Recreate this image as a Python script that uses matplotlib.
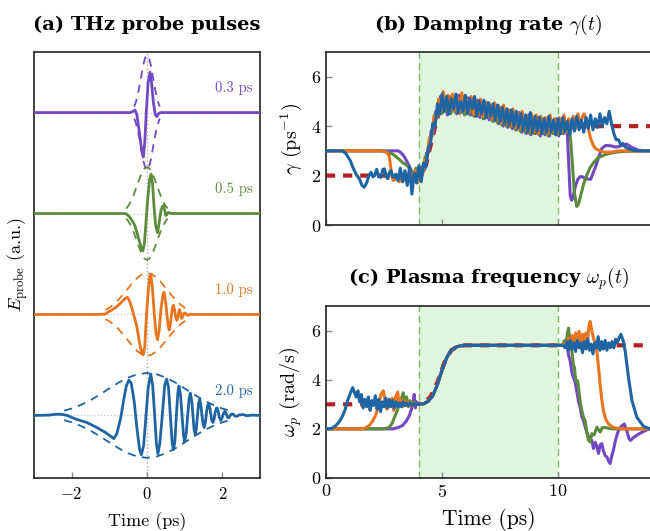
import numpy as np
import matplotlib
matplotlib.use('Agg')
import matplotlib.pyplot as plt

plt.rcParams['font.family'] = 'cmr10'
plt.rcParams['mathtext.fontset'] = 'cm'
plt.rcParams['axes.formatter.use_mathtext'] = True

# ---------------- colours ----------------
C_PURPLE = '#7147c4'
C_GREEN = '#5b8b3c'
C_ORANGE = '#e8741d'
C_BLUE = '#1f64a3'
C_RED = '#b3201f'

# ---------------- panel (a): probe pulses ----------------
pulse_labels = ['0.3 ps', '0.5 ps', '1.0 ps', '2.0 ps']
pulse_offsets = [0.0, -1.0, -2.0, -3.0]

pulse_purple = [(-3.0, 0.0), (-0.45, 0.0), (-0.38, 0.01), (-0.32, 0.025), (-0.27, -0.02),
                (-0.2, -0.2), (-0.14, -0.38), (-0.10, -0.44), (-0.06, -0.3), (-0.02, 0.0),
                (0.03, 0.3), (0.08, 0.40), (0.12, 0.3), (0.17, 0.1), (0.22, -0.02),
                (0.26, -0.04), (0.31, -0.01), (0.36, 0.0), (3.0, 0.0)]
pulse_green = [(-3.0, 0.0), (-0.6, 0.0), (-0.54, -0.005), (-0.45, -0.04), (-0.38, -0.08),
               (-0.32, -0.12), (-0.23, -0.24), (-0.16, -0.33), (-0.11, -0.37), (-0.07, -0.3),
               (-0.03, -0.1), (0.02, 0.15), (0.07, 0.34), (0.11, 0.39), (0.15, 0.28),
               (0.19, 0.05), (0.23, -0.12), (0.28, -0.19), (0.32, -0.1), (0.37, 0.03),
               (0.41, 0.07), (0.44, 0.08), (0.47, 0.03), (0.50, -0.02), (0.53, -0.01),
               (0.56, 0.01), (0.62, 0.003), (0.7, 0.0), (3.0, 0.0)]
pulse_orange = [(-3.0, 0.0), (-1.3, 0.0), (-1.2, 0.003), (-1.13, 0.0), (-1.05, 0.02),
                (-0.95, 0.04), (-0.81, 0.075), (-0.68, 0.12), (-0.58, 0.16), (-0.52, 0.17),
                (-0.47, 0.14), (-0.41, 0.075), (-0.34, -0.02), (-0.27, -0.12), (-0.2, -0.28),
                (-0.14, -0.38), (-0.10, -0.40), (-0.06, -0.32), (-0.02, -0.05), (0.03, 0.22),
                (0.07, 0.37), (0.10, 0.39), (0.14, 0.28), (0.19, 0.02), (0.24, -0.19),
                (0.28, -0.25), (0.32, -0.17), (0.37, 0.05), (0.42, 0.19), (0.45, 0.22),
                (0.49, 0.14), (0.53, 0.0), (0.56, -0.11), (0.59, -0.155), (0.62, -0.1),
                (0.65, 0.0), (0.68, 0.07), (0.70, 0.09), (0.73, 0.05), (0.76, -0.02),
                (0.79, -0.06), (0.82, -0.03), (0.84, 0.02), (0.86, 0.05), (0.89, 0.02),
                (0.92, -0.04), (0.95, -0.02), (0.98, 0.01), (1.01, 0.015), (1.05, 0.0),
                (1.09, -0.01), (1.14, 0.003), (1.2, 0.0), (3.0, 0.0)]
pulse_blue = [(-3.0, 0.0), (-2.6, 0.003), (-2.4, 0.012), (-2.25, 0.01), (-2.12, 0.0),
              (-2.0, -0.02), (-1.86, -0.04), (-1.6, -0.07), (-1.33, -0.12), (-1.1, -0.17),
              (-0.95, -0.21), (-0.88, -0.23), (-0.80, -0.18), (-0.70, -0.03), (-0.62, 0.15),
              (-0.55, 0.29), (-0.48, 0.35), (-0.42, 0.32), (-0.34, 0.14), (-0.27, -0.12),
              (-0.20, -0.33), (-0.15, -0.39), (-0.09, -0.30), (-0.03, -0.02), (0.03, 0.27),
              (0.10, 0.41), (0.15, 0.30), (0.20, 0.02), (0.25, -0.28), (0.29, -0.38),
              (0.34, -0.28), (0.41, 0.02), (0.47, 0.30), (0.52, 0.36), (0.57, 0.28),
              (0.62, 0.00), (0.67, -0.28), (0.70, -0.34), (0.74, -0.26), (0.78, 0.0),
              (0.82, 0.23), (0.85, 0.29), (0.89, 0.2), (0.93, 0.0), (0.97, -0.2),
              (1.00, -0.26), (1.04, -0.18), (1.08, 0.0), (1.12, 0.17), (1.15, 0.22),
              (1.19, 0.14), (1.22, 0.0), (1.25, -0.14), (1.28, -0.19), (1.31, -0.13),
              (1.34, 0.0), (1.37, 0.12), (1.40, 0.16), (1.43, 0.1), (1.46, 0.0),
              (1.49, -0.09), (1.52, -0.12), (1.55, -0.07), (1.58, 0.03), (1.61, 0.1),
              (1.64, 0.115), (1.67, 0.07), (1.70, 0.0), (1.72, -0.05), (1.75, -0.07),
              (1.78, -0.04), (1.81, 0.03), (1.84, 0.07), (1.86, 0.075), (1.89, 0.04),
              (1.92, -0.02), (1.96, -0.05), (1.99, -0.03), (2.03, 0.02), (2.07, 0.04),
              (2.11, 0.01), (2.14, -0.02), (2.17, -0.025), (2.21, 0.0), (2.25, 0.015),
              (2.29, 0.012), (2.33, -0.005), (2.38, -0.01), (2.45, 0.005), (2.55, 0.008),
              (2.65, -0.003), (2.8, 0.003), (3.0, 0.0)]

# envelopes (half, t >= 0; drawn symmetric)
env_purple = [(0.0, 0.57), (0.05, 0.543), (0.1, 0.471), (0.15, 0.366), (0.2, 0.261),
              (0.25, 0.168), (0.3, 0.098), (0.34, 0.059)]
env_green = [(0.0, 0.46), (0.0625, 0.447), (0.125, 0.411), (0.1875, 0.356), (0.25, 0.292),
             (0.3125, 0.226), (0.375, 0.164), (0.4375, 0.114), (0.5, 0.073), (0.55, 0.05)]
env_orange = [(0.0, 0.41), (0.125, 0.399), (0.25, 0.366), (0.375, 0.318), (0.5, 0.260),
              (0.625, 0.202), (0.75, 0.148), (0.875, 0.102), (1.0, 0.067), (1.1, 0.046)]
env_blue = [(0.0, 0.42), (0.25, 0.408), (0.5, 0.375), (0.75, 0.326), (1.0, 0.267),
            (1.25, 0.207), (1.5, 0.151), (1.75, 0.105), (2.0, 0.068), (2.2, 0.047)]

# ---------------- panel (b): damping rate ----------------
gamma_target = [(0.0, 2.0), (4.0, 2.0), (4.3, 2.4), (4.6, 3.6), (4.9, 4.7), (5.2, 5.0),
                (6.0, 4.85), (7.0, 4.6), (8.0, 4.35), (9.0, 4.15), (10.0, 4.0), (14.0, 4.0)]

gam_purple_pre = [(0.0, 3.0), (3.1, 3.0), (3.2, 2.95), (3.35, 2.8), (3.5, 2.55), (3.6, 2.35)]
gam_purple_noisy_t0 = 3.73
gam_purple_noisy = [2.1, 1.85, 2.25, 1.9, 2.35, 2.2, 2.9, 2.95, 3.8, 3.75, 4.6, 4.4, 5.2, 4.55,
                    5.15, 4.45, 5.2, 4.6, 5.1, 4.5, 5.25, 4.55, 5.05, 4.5, 5.15, 4.45, 5.0, 4.4,
                    5.05, 4.35, 4.9, 4.3, 4.95, 4.25, 4.8, 4.2, 4.85, 4.1, 4.75, 4.0, 4.6, 3.95,
                    4.65, 3.9, 4.5, 3.85, 4.55, 3.75, 4.4, 3.7, 4.45, 3.65, 4.3, 3.7, 4.35, 3.6,
                    4.25, 3.65, 4.3, 3.6, 4.2, 3.7, 4.3, 3.6, 4.25, 3.7, 4.1]
gam_purple_post = [(10.4, 3.6), (10.47, 2.2), (10.52, 1.2), (10.58, 1.0), (10.65, 1.15),
                   (10.75, 1.6), (10.85, 1.85), (10.95, 1.96), (11.05, 1.95), (11.2, 1.87),
                   (11.4, 1.85), (11.59, 2.3), (11.75, 2.75), (11.88, 3.1), (12.05, 3.22),
                   (12.3, 3.2), (12.5, 3.15), (12.7, 3.2), (12.95, 3.28), (13.15, 3.15),
                   (13.45, 3.03), (13.8, 3.0), (14.0, 3.0)]

gam_green_pre = [(0.0, 3.0), (2.4, 3.0), (2.6, 2.96), (2.87, 2.87), (3.1, 2.7), (3.3, 2.53),
                 (3.5, 2.4), (3.6, 2.3)]
gam_green_noisy_t0 = 3.67
gam_green_noisy = [2.2, 1.95, 2.3, 1.8, 2.3, 2.1, 2.75, 2.8, 3.55, 3.6, 4.45, 4.35, 5.0, 4.5,
                   5.25, 4.6, 5.1, 4.5, 5.25, 4.55, 5.1, 4.6, 5.2, 4.45, 5.05, 4.5, 5.1, 4.4,
                   4.95, 4.45, 5.0, 4.3, 4.9, 4.35, 4.85, 4.2, 4.8, 4.15, 4.75, 4.05, 4.7, 4.0,
                   4.6, 3.95, 4.55, 3.85, 4.5, 3.8, 4.45, 3.75, 4.35, 3.7, 4.4, 3.7, 4.3, 3.65,
                   4.35, 3.7, 4.25, 3.6, 4.3, 3.7, 4.2, 3.65, 4.3, 3.7, 4.25, 3.75, 4.0]
gam_green_post = [(10.55, 3.3), (10.62, 2.4), (10.7, 1.3), (10.8, 0.75), (10.88, 0.85),
                  (11.0, 1.3), (11.1, 1.67), (11.25, 2.05), (11.38, 2.33), (11.55, 2.55),
                  (11.7, 2.7), (11.9, 2.8), (12.1, 2.87), (12.5, 2.95), (12.9, 2.98), (14.0, 3.0)]

gam_orange_pre = [(0.0, 3.0), (2.3, 3.0), (2.5, 2.98), (2.62, 2.93), (2.72, 2.8), (2.78, 2.4),
                  (2.84, 1.95), (2.9, 1.8)]
gam_orange_noisy_t0 = 3.05
gam_orange_noisy = [1.9, 1.75, 1.95, 1.8, 2.05, 1.75, 2.1, 1.8, 2.2, 1.7, 2.3, 2.0, 2.6, 2.7,
                    3.5, 3.6, 4.4, 4.3, 5.1, 4.6, 5.4, 4.7, 5.25, 4.6, 5.3, 4.65, 5.2, 4.5,
                    5.35, 4.6, 5.1, 4.55, 5.2, 4.5, 5.05, 4.45, 5.1, 4.4, 4.95, 4.45, 4.9, 4.3,
                    4.95, 4.25, 4.8, 4.15, 4.85, 4.1, 4.65, 4.0, 4.7, 3.95, 4.55, 3.9, 4.6, 3.85,
                    4.4, 3.8, 4.5, 3.75, 4.45, 3.7, 4.4, 3.75, 4.35, 3.7, 4.45, 3.8, 4.3, 3.7,
                    4.35, 3.75, 4.45, 3.8, 4.3, 3.85, 4.4, 3.9, 4.5, 4.0]
gam_orange_post = [(11.05, 4.4), (11.12, 4.5), (11.2, 4.3), (11.3, 3.9), (11.4, 3.5),
                   (11.5, 3.25), (11.6, 3.1), (11.8, 3.0), (12.0, 2.95), (12.3, 2.95),
                   (12.6, 3.0), (14.0, 3.0)]

gam_blue_pre = [(0.0, 3.0), (0.7, 3.0), (0.85, 2.9), (0.95, 2.75), (1.05, 2.6), (1.15, 2.35),
                (1.3, 2.05), (1.45, 1.85), (1.55, 1.6), (1.65, 1.53), (1.75, 1.7), (1.85, 2.0),
                (1.94, 2.13), (2.02, 1.95), (2.1, 2.0), (2.18, 2.25), (2.27, 1.95), (2.37, 1.93),
                (2.45, 2.25), (2.52, 2.27), (2.6, 1.95), (2.66, 1.87), (2.74, 2.15), (2.8, 2.2),
                (2.88, 1.95), (2.95, 1.93)]
gam_blue_noisy_t0 = 3.0
gam_blue_noisy = [2.05, 1.8, 2.3, 1.75, 2.2, 1.6, 2.35, 1.25, 2.1, 1.7, 2.4, 1.75, 2.5, 2.35,
                  3.1, 3.3, 4.1, 4.0, 4.9, 4.5, 5.3, 4.6, 5.2, 4.5, 5.1, 4.7, 5.3, 4.55, 5.0,
                  4.6, 5.25, 4.5, 5.1, 4.7, 5.2, 4.4, 5.0, 4.5, 5.05, 4.35, 4.95, 4.4, 4.9, 4.25,
                  4.85, 4.2, 4.75, 4.1, 4.7, 4.05, 4.65, 4.0, 4.6, 3.95, 4.5, 3.85, 4.45, 3.8,
                  4.55, 3.75, 4.4, 3.8, 4.35, 3.7, 4.3, 3.75, 4.4, 3.8, 4.25, 3.65, 4.3, 3.7,
                  4.35, 3.8, 4.2, 3.65, 4.3, 3.8, 4.4, 3.85, 4.25, 3.75, 4.35, 3.9, 4.45, 3.85,
                  4.3, 3.95, 4.5, 4.0, 4.35, 4.1, 4.6, 4.1]
gam_blue_post = [(12.4, 3.7), (12.5, 3.45), (12.6, 3.45), (12.7, 3.25), (12.8, 3.3),
                 (12.9, 3.15), (13.0, 3.1), (13.2, 3.03), (13.5, 3.0), (14.0, 3.0)]

# ---------------- panel (c): plasma frequency ----------------
omega_target = [(0.0, 3.0), (3.8, 3.0), (4.2, 3.05), (4.5, 3.3), (4.8, 3.9), (5.1, 4.7),
                (5.4, 5.2), (5.7, 5.37), (6.0, 5.4), (14.0, 5.4)]
omega_rise = [(4.0, 3.0), (4.2, 3.02), (4.4, 3.12), (4.6, 3.35), (4.8, 3.8), (5.0, 4.4),
              (5.2, 4.9), (5.4, 5.2), (5.6, 5.33), (5.8, 5.38), (6.0, 5.4), (10.0, 5.4),
              (10.2, 5.4)]

om_purple_pre = [(0.0, 2.0), (2.87, 2.0), (3.1, 2.05), (3.3, 2.14), (3.45, 2.3), (3.59, 2.54),
                 (3.68, 2.8), (3.76, 3.15), (3.8, 3.4), (3.85, 2.85), (3.9, 3.1), (3.95, 3.0)]
om_purple_post = [(10.3, 5.5), (10.37, 5.43), (10.45, 5.0), (10.52, 4.76), (10.59, 4.3),
                  (10.66, 4.09), (10.73, 3.9), (10.8, 3.55), (10.88, 3.1), (10.95, 2.87),
                  (11.02, 2.5), (11.09, 2.34), (11.16, 2.1), (11.23, 1.87), (11.3, 1.7),
                  (11.38, 1.55), (11.45, 1.53), (11.52, 1.2), (11.6, 1.45), (11.67, 1.26),
                  (11.74, 1.0), (11.81, 1.35), (11.88, 1.4), (11.95, 1.1), (12.03, 0.9),
                  (12.1, 0.86), (12.17, 0.7), (12.24, 0.59), (12.31, 0.9), (12.38, 1.13),
                  (12.46, 1.5), (12.55, 1.8), (12.63, 2.0), (12.72, 2.1), (12.85, 2.2),
                  (12.95, 1.95), (13.05, 1.6), (13.12, 1.53), (13.25, 1.65), (13.45, 1.78),
                  (13.65, 1.88), (13.85, 1.97), (14.0, 2.0)]

om_green_pre = [(0.0, 2.0), (2.44, 2.0), (2.6, 2.02), (2.73, 2.07), (2.85, 2.23), (2.95, 2.47),
                (3.06, 2.72), (3.16, 3.0), (3.25, 3.25), (3.33, 3.47), (3.4, 3.0), (3.47, 3.3),
                (3.55, 2.9), (3.62, 3.15), (3.7, 2.95), (3.78, 3.1), (3.86, 3.0), (3.95, 3.0)]
om_green_post = [(10.27, 5.6), (10.33, 5.35), (10.4, 5.9), (10.45, 6.1), (10.5, 5.6),
                 (10.55, 5.4), (10.59, 5.16), (10.66, 4.6), (10.7, 4.5), (10.73, 4.22),
                 (10.76, 4.0), (10.8, 3.9), (10.84, 3.95), (10.88, 3.68), (10.95, 3.1),
                 (11.02, 2.74), (11.09, 2.47), (11.16, 2.34), (11.23, 1.9), (11.31, 1.53),
                 (11.38, 1.47), (11.45, 1.8), (11.55, 1.75), (11.67, 2.07), (11.81, 1.87),
                 (11.9, 2.05), (12.05, 2.05), (12.3, 2.0), (14.0, 2.0)]

om_orange_pre = [(0.0, 2.0), (1.55, 2.0), (1.7, 2.04), (1.87, 2.14), (2.02, 2.33), (2.16, 2.6),
                 (2.27, 3.0), (2.37, 3.41), (2.47, 3.55), (2.55, 3.1), (2.62, 2.8), (2.7, 3.2),
                 (2.77, 2.9), (2.85, 3.25), (2.92, 2.75), (3.0, 3.3), (3.09, 3.5), (3.15, 2.95),
                 (3.22, 3.2), (3.3, 2.9), (3.37, 3.15), (3.45, 2.95), (3.52, 3.1), (3.6, 2.95),
                 (3.7, 3.05), (3.8, 3.0), (3.9, 3.0)]
om_orange_post = [(10.3, 5.5), (10.37, 5.3), (10.45, 5.7), (10.52, 5.25), (10.6, 5.8),
                  (10.67, 5.35), (10.75, 5.9), (10.82, 5.4), (10.9, 5.97), (10.97, 5.5),
                  (11.05, 5.85), (11.12, 5.45), (11.2, 5.9), (11.27, 5.6), (11.33, 6.2),
                  (11.38, 6.37), (11.45, 6.0), (11.52, 5.7), (11.6, 5.45), (11.67, 5.16),
                  (11.74, 4.5), (11.81, 3.8), (11.88, 3.2), (11.95, 2.74), (12.05, 2.4),
                  (12.17, 2.2), (12.35, 2.07), (12.53, 2.03), (12.8, 2.0), (14.0, 2.0)]

om_blue_pre = [(0.0, 2.0), (0.25, 2.02), (0.43, 2.14), (0.58, 2.3), (0.72, 2.54), (0.83, 2.8),
               (0.93, 3.15), (1.05, 3.45), (1.15, 3.68), (1.22, 3.5)]
om_blue_noisy_t0 = 1.3
om_blue_noisy = [3.3, 3.55, 3.1, 3.4, 2.85, 3.2, 2.9, 3.3, 2.75, 3.15, 2.95, 3.35, 2.8, 3.2,
                 2.7, 3.1, 2.9, 3.25, 2.85, 3.2, 2.9, 3.15, 2.85, 3.1, 2.9, 3.05, 2.9, 3.1,
                 2.95, 3.05, 2.95, 3.05, 2.97, 3.03, 3.0, 3.0]
om_blue_post_t0 = 10.3
om_blue_post_noisy = [5.3, 5.55, 5.2, 5.6, 5.25, 5.5, 5.15, 5.6, 5.3, 5.5, 5.1, 5.55, 5.25,
                      5.65, 5.2, 5.45, 5.05, 5.5, 5.3, 5.75, 5.2, 5.55, 5.25, 5.6, 5.2, 5.5,
                      5.3, 5.55, 5.3, 5.65, 5.5, 5.7, 5.85]
om_blue_post = [(12.8, 5.6), (12.89, 5.16), (13.03, 4.09), (13.18, 3.15), (13.39, 2.47),
                (13.68, 2.1), (13.97, 2.0), (14.0, 2.0)]


def knots(pts):
    a = np.array(pts, dtype=float)
    return a[:, 0], a[:, 1]


def grid(t0, vals, step=0.1):
    return t0 + step * np.arange(len(vals)), np.array(vals, dtype=float)


def join(*parts):
    ts = np.concatenate([p[0] for p in parts])
    vs = np.concatenate([p[1] for p in parts])
    return ts, vs


# ---------------- figure ----------------
fig = plt.figure(figsize=(6.5, 5.31), dpi=100)
W, H = 650.0, 531.0


def axes_px(l, t, r, b):
    return fig.add_axes([l / W, 1 - b / H, (r - l) / W, (b - t) / H])


axA = axes_px(34, 52, 260, 478)
axB = axes_px(326, 52, 651, 225)
axC = axes_px(326, 306, 651, 478)

tick_kw = dict(direction='in', color='#8a8a8a', length=4.5, width=1.0)
for ax in (axA, axB, axC):
    for s in ax.spines.values():
        s.set_linewidth(1.2)
        s.set_color('#222222')
    ax.tick_params(**tick_kw)

title_kw = dict(fontfamily='DejaVu Serif', fontweight='bold', fontsize=14, pad=16)

# ----- (a)
pulses = [pulse_purple, pulse_green, pulse_orange, pulse_blue]
envs = [env_purple, env_green, env_orange, env_blue]
cols = [C_PURPLE, C_GREEN, C_ORANGE, C_BLUE]
axA.axvline(0, color='#aaaaaa', ls=':', lw=1.0, zorder=1)
for pts, env, col, off, lab in zip(pulses, envs, cols, pulse_offsets, pulse_labels):
    axA.axhline(off, color='#c8c8c8', ls=':', lw=0.9, zorder=1)
    et, ev = knots(env)
    et_full = np.concatenate([-et[::-1], et[1:]])
    ev_full = np.concatenate([ev[::-1], ev[1:]])
    axA.plot(et_full, off + ev_full, color=col, lw=1.3, ls=(0, (4.5, 3.5)), zorder=2)
    axA.plot(et_full, off - ev_full, color=col, lw=1.3, ls=(0, (4.5, 3.5)), zorder=2)
    t, v = knots(pts)
    axA.plot(t, off + v, color=col, lw=2.0, zorder=3, solid_joinstyle='round')
    axA.text(2.3, off + 0.245, lab, color=col, fontsize=10.5, ha='center', va='center')
axA.set_xlim(-3, 3)
axA.set_ylim(-3.62, 0.6)
axA.set_yticks([])
axA.set_xticks([-2, 0, 2])
axA.tick_params(axis='x', labelsize=12, pad=6)
axA.set_xlabel('Time (ps)', fontsize=13, labelpad=7)
axA.set_ylabel(r'$E_{\rm probe}$ (a.u.)', fontsize=13, labelpad=3)
axA.set_title('(a) THz probe pulses', **title_kw)

# ----- (b) and (c) shared styling
for ax in (axB, axC):
    ax.axvspan(4, 10, color='#e0f5dd', zorder=0, lw=0)
    for xv in (4, 10):
        ax.axvline(xv, color='#7db862', lw=1.0, ls=(0, (5, 3)), zorder=1)
    ax.set_xlim(0, 14)
    ax.set_ylim(0, 7)
    ax.set_yticks([0, 2, 4, 6])
    ax.set_xticks([0, 5, 10])
    ax.tick_params(labelsize=13)

LW = 2.2
red_style = dict(color=C_RED, lw=3.0, ls=(0, (2.2, 1.9)), zorder=2)

# ----- (b)
tt, vv = knots(gamma_target)
axB.plot(tt, vv, **red_style)
gb_purple = join(knots(gam_purple_pre), grid(gam_purple_noisy_t0, gam_purple_noisy),
                 knots(gam_purple_post))
gb_green = join(knots(gam_green_pre), grid(gam_green_noisy_t0, gam_green_noisy),
                knots(gam_green_post))
gb_orange = join(knots(gam_orange_pre), grid(gam_orange_noisy_t0, gam_orange_noisy),
                 knots(gam_orange_post))
gb_blue = join(knots(gam_blue_pre), grid(gam_blue_noisy_t0, gam_blue_noisy),
               knots(gam_blue_post))
for (t, v), col, z in zip([gb_purple, gb_green, gb_orange, gb_blue], cols, [3, 4, 5, 6]):
    axB.plot(t, v, color=col, lw=LW, zorder=z)
axB.set_xticklabels([])
axB.set_ylabel(r'$\gamma$ (ps$^{-1}$)', fontsize=14.5, labelpad=5)
axB.set_title(r'(b) Damping rate $\gamma(t)$', **title_kw)

# ----- (c)
tt, vv = knots(omega_target)
axC.plot(tt, vv, **red_style)
rise = knots(omega_rise)
oc_purple = join(knots(om_purple_pre), rise, knots(om_purple_post))
oc_green = join(knots(om_green_pre), rise, knots(om_green_post))
oc_orange = join(knots(om_orange_pre), rise, knots(om_orange_post))
oc_blue = join(knots(om_blue_pre), grid(om_blue_noisy_t0, om_blue_noisy, 0.075), rise,
               grid(om_blue_post_t0, om_blue_post_noisy, 0.075), knots(om_blue_post))
for (t, v), col, z in zip([oc_purple, oc_green, oc_orange, oc_blue], cols, [3, 4, 5, 6]):
    axC.plot(t, v, color=col, lw=LW, zorder=z)
axC.set_xlabel('Time (ps)', fontsize=15.5, labelpad=6)
axC.set_ylabel(r'$\omega_p$ (rad/s)', fontsize=14.5, labelpad=5)
axC.set_title(r'(c) Plasma frequency $\omega_p(t)$', **title_kw)

fig.savefig('out.png', dpi=100)
